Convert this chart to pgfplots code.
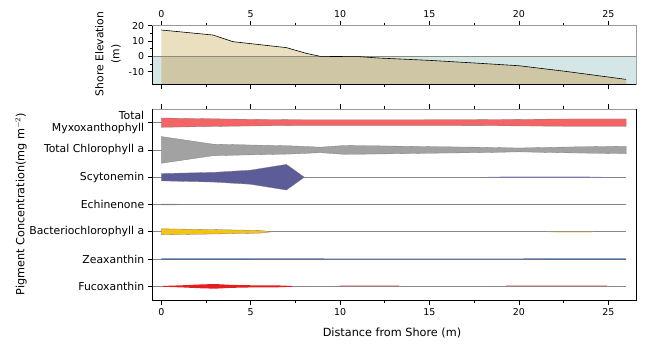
\documentclass[border=0pt]{standalone}
\usepackage{fontspec}
\setmainfont{DejaVu Sans}
\usepackage{pgfplots}
\pgfplotsset{compat=1.18}
\usepackage{pgfplotstable}

\definecolor{land}{RGB}{234,224,192}
\definecolor{landw}{RGB}{206,198,164}
\definecolor{water}{RGB}{212,230,230}
\definecolor{zline}{RGB}{140,140,125}
\definecolor{catl}{RGB}{135,135,135}
\definecolor{myxo}{RGB}{244,100,100}
\definecolor{chla}{RGB}{162,162,162}
\definecolor{scyt}{RGB}{92,92,152}
\definecolor{bchl}{RGB}{245,195,20}
\definecolor{zeax}{RGB}{80,110,150}
\definecolor{fuco}{RGB}{228,30,30}
\definecolor{echi}{RGB}{120,135,125}
\definecolor{outl}{RGB}{125,125,125}

% elevation profile
\pgfplotstableread{
x y
0 17.2
2.9 13.9
4 9.6
7 5.7
8.1 2.0
8.9 0
11.1 -0.2
12.2 -1.1
15 -2.6
17.5 -4.3
20 -6.1
22.5 -9.6
26 -15
}\elev

% band outlines: signed half widths (category units), upper side then lower side
\pgfplotstableread{
x d
0 0.17
2 0.15
4 0.13
6 0.115
8 0.105
14 0.105
18 0.11
20 0.12
23 0.135
26 0.135
26 -0.135
23 -0.135
20 -0.12
18 -0.11
14 -0.105
8 -0.105
6 -0.115
4 -0.13
2 -0.15
0 -0.17
}\myxo
\pgfplotstableread{
x d
0 0.49
2.9 0.21
5 0.18
7.2 0.15
8.9 0.10
10.2 0.16
12 0.15
15 0.12
17.7 0.10
20 0.07
23 0.11
26 0.135
26 -0.135
23 -0.11
20 -0.07
17.7 -0.10
15 -0.12
12 -0.15
10.2 -0.16
8.9 -0.10
7.2 -0.15
5 -0.18
2.9 -0.21
0 -0.49
}\chla
\pgfplotstableread{
x d
0 0.134
3 0.18
5 0.26
7 0.47
8 0.0
7 -0.47
5 -0.26
3 -0.18
0 -0.134
}\scyt
\pgfplotstableread{
x d
18 0.004
19.5 0.025
23.5 0.025
24.5 0.008
26 0.004
26 -0.004
24.5 -0.008
23.5 -0.025
19.5 -0.025
18 -0.004
}\scytb
\pgfplotstableread{
x d
0 0.02
1 0.018
2 0.01
26 0.01
26 -0.01
2 -0.01
1 -0.018
0 -0.02
}\echi
\pgfplotstableread{
x d
0 0.11
3 0.08
5.5 0.05
6.2 0.0
5.5 -0.05
3 -0.08
0 -0.11
}\bchl
\pgfplotstableread{
x d
21.5 0.0
22 0.0
24 0.0
24.2 0.0
24 -0.03
22 -0.03
}\bchlb
\pgfplotstableread{
x d
0 0.03
5 0.025
10 0.02
20 0.02
23 0.03
26 0.03
26 -0.03
23 -0.03
20 -0.02
10 -0.02
5 -0.025
0 -0.03
}\zeax
\pgfplotstableread{
x d
0.1 0.015
1.2 0.04
2.2 0.07
3 0.085
3.9 0.055
5 0.04
6.5 0.035
7.3 0.015
7.3 -0.015
6.5 -0.035
5 -0.04
3.9 -0.055
3 -0.085
2.2 -0.07
1.2 -0.04
0.1 -0.015
}\fuco
\pgfplotstableread{
x d
10 0.035
13.3 0.035
13.3 0.0
10 0.0
}\fucob
\pgfplotstableread{
x d
19.3 0.035
24.9 0.035
24.9 0.0
19.3 0.0
}\fucoc

\pgfplotsset{
  myax/.style={
    scale only axis, width=483.3bp,
    xmin=-0.48, xmax=26.55,
    xtick={0,5,...,25}, minor x tick num=1,
    tick align=outside,
    major tick length=5bp, minor tick length=3bp,
    tick style={black, line width=0.6pt},
    axis line style={draw=gray!80, line width=0.6pt},
    ticklabel style={font=\fontsize{9.5}{11}\selectfont},
    /pgf/number format/assume math mode=true,
    clip=false,
  }
}

\begin{document}
\begin{tikzpicture}
\path[use as bounding box] (0bp,0bp) rectangle (650bp,352bp);

% top axis
\begin{axis}[myax, at={(152.7bp,267.7bp)}, anchor=south west,
  height=58.6bp, ymin=-18.2, ymax=20,
  ytick={-10,0,10,20}, minor y tick num=1, ytick pos=left,
  xticklabel pos=upper, xtick pos=both]
\addplot[fill=water, draw=none] coordinates {(-0.48,0)(26.55,0)(26.55,-18.2)(-0.48,-18.2)} \closedcycle;
\addplot[fill=land, draw=none] coordinates {(0,0)(0,17.2)(2.9,13.9)(4,9.6)(7,5.7)(8.1,2.0)(8.9,0)} \closedcycle;
\addplot[fill=landw, draw=none] coordinates {(0,0)(8.9,0)(11.1,-0.2)(12.2,-1.1)(15,-2.6)(17.5,-4.3)(20,-6.1)(22.5,-9.6)(26,-15)(26,-18.2)(0,-18.2)} \closedcycle;
\addplot[zline, line width=0.8pt] coordinates {(-0.48,0)(26.55,0)};
\addplot[black, line width=0.6pt] table[x=x,y=y] {\elev};
\draw[black, line width=1pt] (rel axis cs:0,1) -- (rel axis cs:0,0) -- (rel axis cs:1,0);
\end{axis}

% bottom axis
\begin{axis}[myax, at={(152.7bp,52bp)}, anchor=south west,
  height=191bp, ymin=0.5, ymax=7.5,
  ytick={1,2,3,4,5,6,7}, ytick pos=left,
  yticklabels={Fucoxanthin,Zeaxanthin,Bacteriochlorophyll a,Echinenone,Scytonemin,Total Chlorophyll a,{Total\\Myxoxanthophyll}},
  yticklabel style={align=right, font=\fontsize{10.9}{12.5}\selectfont},
  xticklabel pos=lower, xtick pos=both]
\addplot[catl, line width=0.8pt] coordinates {(-0.48,1)(26,1)};
\addplot[catl, line width=0.8pt] coordinates {(-0.48,2)(26,2)};
\addplot[catl, line width=0.8pt] coordinates {(-0.48,3)(26,3)};
\addplot[catl, line width=0.8pt] coordinates {(-0.48,4)(26,4)};
\addplot[catl, line width=0.8pt] coordinates {(-0.48,5)(26,5)};
\addplot[catl, line width=0.8pt] coordinates {(-0.48,6)(26,6)};
\addplot[catl, line width=0.8pt] coordinates {(-0.48,7)(26,7)};
\addplot[fill=myxo, draw=outl, line width=0.3pt] table[x=x, y expr=7+\thisrow{d}] {\myxo} --cycle;
\addplot[fill=chla, draw=outl, line width=0.3pt] table[x=x, y expr=6+\thisrow{d}] {\chla} --cycle;
\addplot[fill=scyt, draw=outl, line width=0.3pt] table[x=x, y expr=5+\thisrow{d}] {\scyt} --cycle;
\addplot[fill=scyt!80!white, draw=none] table[x=x, y expr=5+\thisrow{d}] {\scytb} --cycle;
\addplot[fill=echi, draw=none] table[x=x, y expr=4+\thisrow{d}] {\echi} --cycle;
\addplot[fill=bchl, draw=outl, line width=0.3pt] table[x=x, y expr=3+\thisrow{d}] {\bchl} --cycle;
\addplot[fill=bchl!50!white, draw=none] table[x=x, y expr=3+\thisrow{d}] {\bchlb} --cycle;
\addplot[fill=zeax, draw=none] table[x=x, y expr=2+\thisrow{d}] {\zeax} --cycle;
\addplot[fill=fuco!35!white, draw=none] table[x=x, y expr=1+\thisrow{d}] {\fucob} --cycle;
\addplot[fill=fuco!35!white, draw=none] table[x=x, y expr=1+\thisrow{d}] {\fucoc} --cycle;
\addplot[fill=fuco, draw=none] table[x=x, y expr=1+\thisrow{d}] {\fuco} --cycle;
\draw[black, line width=1pt] (rel axis cs:0,1) -- (rel axis cs:0,0) -- (rel axis cs:1,0) -- (rel axis cs:1,1);
\end{axis}

\node[rotate=90, align=center, font=\fontsize{10.8}{16}\selectfont] at (108bp,298bp) {Shore Elevation\\(m)};
\node[rotate=90, font=\fontsize{11.3}{13}\selectfont] at (21bp,148bp) {Pigment Concentration(mg m$^{-2}$)};
\node[font=\fontsize{11.3}{13}\selectfont] at (392bp,19bp) {Distance from Shore (m)};
\end{tikzpicture}
\end{document}
